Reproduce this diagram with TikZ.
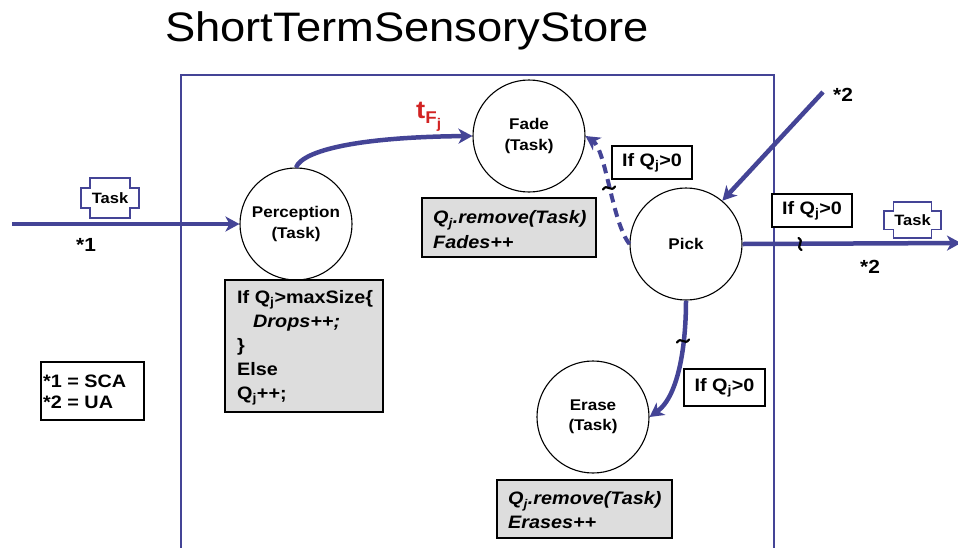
\documentclass[tikz,border=0pt]{standalone}
\usepackage{fontspec}
\setmainfont{Liberation Sans}[FakeStretch=1.1]
\usetikzlibrary{arrows.meta}
\definecolor{navy}{RGB}{68,68,150}
\definecolor{boxgray}{RGB}{221,221,221}
\definecolor{tred}{RGB}{210,35,35}
\newcommand{\fsz}[2]{\fontsize{#1}{#2}\selectfont}
\begin{document}
\begin{tikzpicture}[x=1pt,y=-1pt,
  proc/.style={circle, draw=black, line width=1.1pt, fill=white, minimum size=112pt, inner sep=0pt, align=center, font=\bfseries\fsz{15.5}{20.5}},
  graybox/.style={draw=black, line width=1.3pt, fill=boxgray, inner sep=0pt},
  boxtext/.style={anchor=west, align=left, inner sep=0pt, font=\bfseries\fsz{18}{24}},
  ifbox/.style={draw=black, line width=1.3pt, fill=white, inner sep=0pt, minimum width=80pt, minimum height=33pt, font=\bfseries\fsz{18}{22}},
  flow/.style={draw=navy, line width=4.5pt, -{Stealth[length=14pt,width=15pt,inset=4pt]}},
  dflow/.style={flow, line width=4pt, dash pattern=on 9pt off 6pt},
  starlbl/.style={font=\bfseries\fsz{19}{22}},
  tildestroke/.style={draw=black, line width=2.2pt, line cap=round},
  taskedge/.style={draw=navy, line width=1.4pt},
  tasktxt/.style={font=\bfseries\fsz{15}{18}, inner sep=0pt}
]
\useasboundingbox (0,0) rectangle (958,547);

% frame
\draw[navy, line width=1.3pt] (181,560) -- (181,75) -- (774,75) -- (774,560);

% title
\node[anchor=base west, inner sep=0pt, font=\fsz{41.2}{48}] (title) at (165,41) {ShortTermSensoryStore};

% processes
\node[proc] (perc) at (296,224) {Perception\\(Task)};
\node[proc] (fade) at (529,136) {Fade\\(Task)};
\node[proc] (pick) at (686,244) {Pick};
\node[proc] (erase) at (593,417) {Erase\\(Task)};

% gray boxes
\node[graybox, minimum width=158pt, minimum height=132pt] (percbox) at (304,346) {};
\node[boxtext] (perctext) at (237,348)
  {If Q\textsubscript{j}>maxSize\{\\\hspace*{16pt}\textit{Drops++;}\\\}\\Else\\Q\textsubscript{j}++;};
\node[graybox, minimum width=174pt, minimum height=59pt] (fadebox) at (509,227.5) {};
\node[boxtext, font=\bfseries\itshape\fsz{18}{25}] (fadetext) at (433,230)
  {Q\textsubscript{j}.remove(Task)\\Fades++};
\node[graybox, minimum width=175pt, minimum height=58pt] (erasebox) at (584.5,509) {};
\node[boxtext, font=\bfseries\itshape\fsz{18}{24}] (erasetext) at (508,510.5)
  {Q\textsubscript{j}.remove(Task)\\Erases++};

% legend
\node[graybox, fill=white, minimum width=103pt, minimum height=58pt] (legend) at (92.5,391) {};
\node[boxtext, font=\bfseries\fsz{18}{21}] (legendtext) at (43,392)
  {*1 = SCA\\{}*2 = UA};

% condition boxes
\node[ifbox] (if1) at (652,162.5) {If Q\textsubscript{j}>0};
\node[ifbox] (if2) at (812,210.5) {If Q\textsubscript{j}>0};
\node[ifbox, minimum width=81pt, minimum height=37pt] (if3) at (724.5,387.5) {If Q\textsubscript{j}>0};

% connectors
\coordinate (inStart) at (12,224);
\coordinate (src2) at (823,92);
\coordinate (outEnd) at (961,243);
\draw[flow] (inStart) -- (perc.west);
\draw[flow] (perc.north) .. controls (303,150) and (360,137) .. (fade.west);
\draw[dflow] (pick.west) .. controls (612,222) and (606,150) .. (fade.east);
\draw[flow] (src2) -- (pick.50);
\draw[flow] (pick.east) -- (outEnd);
\draw[flow] (pick.south) .. controls (686,340) and (680,395) .. (erase.east);

% tilde marks
\draw[tildestroke, shift={(800,244)}, rotate=90] (-6,1.5) .. controls (-2,-5) and (2,5) .. (6,-1.5);
\draw[tildestroke, shift={(609,188)}] (-6,1.5) .. controls (-2,-5) and (2,5) .. (6,-1.5);
\draw[tildestroke, shift={(683,341)}] (-6,1.5) .. controls (-2,-5) and (2,5) .. (6,-1.5);

% labels
\node[anchor=base west, inner sep=0pt, text=tred, font=\bfseries] (tfj) at (416,118)
  {\fsz{25}{26}t\raisebox{-5pt}{\fsz{17}{18}F\raisebox{-5pt}{\fsz{14}{15}j}}};
\node[starlbl] (s1) at (86,245) {*1};
\node[starlbl] (s2a) at (843,95) {*2};
\node[starlbl] (s2b) at (870,267) {*2};

% task tokens
\node[tasktxt] (task1) at (110,198) {Task};
\draw[taskedge, shift={(task1.center)}] (-20,-20) -- (20,-20) -- (20,-10) -- (29,-10) -- (29,10) -- (20,10) -- (20,20) -- (-20,20) -- (-20,10) -- (-29,10) -- (-29,-10) -- (-20,-10) -- cycle;
\node[tasktxt] (task2) at (912.5,220) {Task};
\draw[taskedge, shift={(task2.center)}] (-19,-18) -- (19,-18) -- (19,-9) -- (28.5,-9) -- (28.5,9.5) -- (19,9.5) -- (19,18) -- (-19,18) -- (-19,9.5) -- (-28.5,9.5) -- (-28.5,-9) -- (-19,-9) -- cycle;
\end{tikzpicture}
\end{document}
